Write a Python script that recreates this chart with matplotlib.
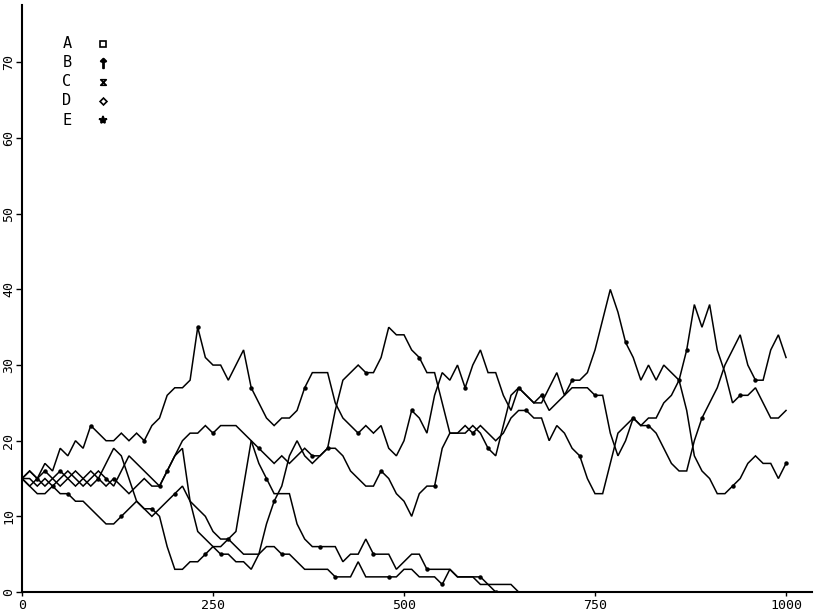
import numpy as np
import matplotlib
matplotlib.use("Agg")
import matplotlib.pyplot as plt
from matplotlib.path import Path

# five random walks, sampled every 10 steps; C and E stop when they hit 0
step = 10
walk_a = [15, 16, 15, 17, 16, 19, 18, 20, 19, 22,
          21, 20, 20, 21, 20, 21, 20, 22, 23, 26,
          27, 27, 28, 35, 31, 30, 30, 28, 30, 32,
          27, 25, 23, 22, 23, 23, 24, 27, 29, 29,
          29, 25, 23, 22, 21, 22, 21, 22, 19, 18,
          20, 24, 23, 21, 26, 29, 28, 30, 27, 30,
          32, 29, 29, 26, 24, 27, 26, 25, 25, 27,
          29, 26, 28, 28, 29, 32, 36, 40, 37, 33,
          31, 28, 30, 28, 30, 29, 28, 24, 18, 16,
          15, 13, 13, 14, 15, 17, 18, 17, 17, 15, 17]
walk_b = [15, 14, 15, 16, 15, 14, 15, 16, 15, 14,
          15, 17, 19, 18, 15, 12, 11, 11, 10, 6,
          3, 3, 4, 4, 5, 6, 6, 7, 8, 14,
          20, 19, 18, 17, 18, 17, 18, 19, 18, 18,
          19, 24, 28, 29, 30, 29, 29, 31, 35, 34,
          34, 32, 31, 29, 29, 25, 21, 21, 22, 21,
          22, 21, 20, 21, 23, 24, 24, 23, 23, 20,
          22, 21, 19, 18, 15, 13, 13, 17, 21, 22,
          23, 22, 23, 23, 25, 26, 28, 32, 38, 35,
          38, 32, 29, 25, 26, 26, 27, 25, 23, 23, 24]
walk_c = [15, 15, 14, 15, 14, 15, 16, 15, 14, 15,
          16, 15, 14, 16, 18, 17, 16, 15, 14, 16,
          18, 20, 21, 21, 22, 21, 22, 22, 22, 21,
          20, 17, 15, 13, 13, 13, 9, 7, 6, 6,
          6, 6, 4, 5, 5, 7, 5, 5, 5, 3,
          4, 5, 5, 3, 3, 3, 3, 2, 2, 2,
          2, 1, 1, 1, 1, 0]
walk_d = [15, 16, 15, 14, 15, 16, 15, 14, 15, 16,
          15, 14, 15, 14, 13, 14, 15, 14, 14, 16,
          18, 19, 12, 8, 7, 6, 5, 5, 4, 4,
          3, 5, 9, 12, 14, 18, 20, 18, 17, 18,
          19, 19, 18, 16, 15, 14, 14, 16, 15, 13,
          12, 10, 13, 14, 14, 19, 21, 21, 21, 22,
          21, 19, 18, 22, 26, 27, 26, 25, 26, 24,
          25, 26, 27, 27, 27, 26, 26, 21, 18, 20,
          23, 22, 22, 21, 19, 17, 16, 16, 20, 23,
          25, 27, 30, 32, 34, 30, 28, 28, 32, 34, 31]
walk_e = [15, 14, 13, 13, 14, 13, 13, 12, 12, 11,
          10, 9, 9, 10, 11, 12, 11, 10, 11, 12,
          13, 14, 12, 11, 10, 8, 7, 7, 6, 5,
          5, 5, 6, 6, 5, 5, 4, 3, 3, 3,
          3, 2, 2, 2, 4, 2, 2, 2, 2, 2,
          3, 3, 2, 2, 2, 1, 3, 2, 2, 2,
          1, 1, 0]

names = ["A", "B", "C", "D", "E"]
walks = [walk_a, walk_b, walk_c, walk_d, walk_e]

# plotter symbols: square, arrow, hourglass, diamond, star
hourglass = Path([(-1, 1), (1, 1), (-1, -1), (1, -1), (-1, 1)],
                 [Path.MOVETO, Path.LINETO, Path.LINETO, Path.LINETO, Path.CLOSEPOLY])
symbols = ["s", r"$\uparrow$", hourglass, "D", "*"]
sym_size = [4, 7, 4, 3.5, 6]
sym_fill = ["none", "black", "none", "none", "black"]

plt.rcParams["font.family"] = "DejaVu Sans Mono"

fig = plt.figure(figsize=(8.18, 6.15), dpi=100)
ax = fig.add_axes([22 / 818, 23 / 615, 790 / 818, 587 / 615])

for k, vals in enumerate(walks):
    x = np.arange(len(vals)) * step
    ax.plot(x, vals, color="black", lw=1.1, solid_joinstyle="miter")
    ax.plot(x[2 + k::7], np.array(vals)[2 + k::7], ls="none", marker="o",
            ms=2.2, color="black")

# key in the top left corner
for i, (name, sym) in enumerate(zip(names, symbols)):
    y = 0.934 - i * 0.0325
    ax.text(0.057, y, name, transform=ax.transAxes, fontsize=11,
            ha="center", va="center")
    ax.plot([0.1025], [y], transform=ax.transAxes, marker=sym,
            ms=sym_size[i], color="black", mfc=sym_fill[i], mew=1.2,
            clip_on=False)

ax.set_xlim(0, 1034)
ax.set_ylim(0, 77.6)
ax.set_xticks([0, 250, 500, 750, 1000])
ax.set_yticks(range(0, 80, 10))
ax.tick_params(axis="x", length=3, width=1, labelsize=9.5, pad=2)
ax.tick_params(axis="y", length=4, width=1, labelsize=9.5, pad=1)
for lab in ax.get_yticklabels():
    lab.set_rotation(90)
    lab.set_va("center")
for side in ["top", "right"]:
    ax.spines[side].set_visible(False)
for side in ["left", "bottom"]:
    ax.spines[side].set_linewidth(1.5)

fig.savefig("out.png", dpi=100)
